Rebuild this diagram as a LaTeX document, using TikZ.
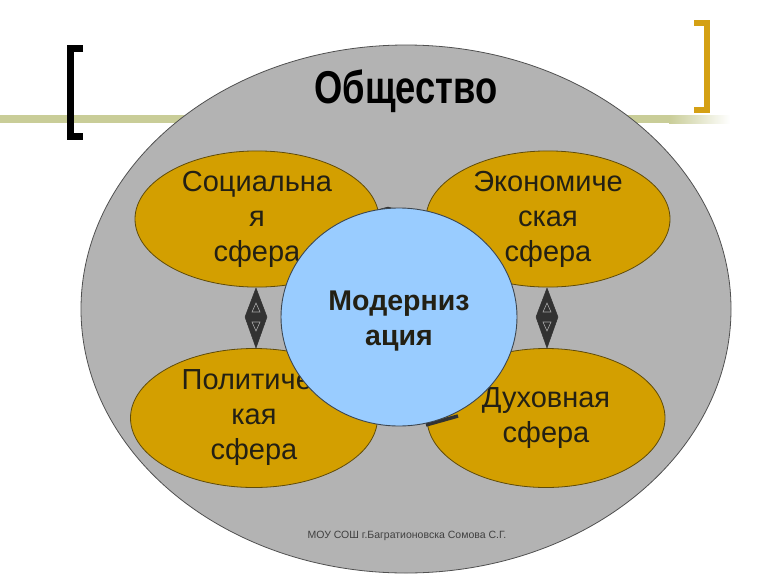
\documentclass[tikz,border=0pt]{standalone}
\usepackage{fontspec}
\setmainfont{Liberation Sans}
\usetikzlibrary{shapes.geometric,calc}
\definecolor{goldfill}{RGB}{211,159,0}
\definecolor{goldline}{RGB}{95,75,10}
\definecolor{grayfill}{RGB}{179,179,179}
\definecolor{grayline}{RGB}{80,80,80}
\definecolor{bluefill}{RGB}{153,204,255}
\definecolor{blueline}{RGB}{60,70,80}
\definecolor{olivebar}{RGB}{201,205,152}
\definecolor{bracketgold}{RGB}{212,160,20}
\definecolor{darkarrow}{RGB}{50,50,50}
\definecolor{txt}{RGB}{35,32,20}
\tikzset{
  sphere/.style={ellipse, draw=goldline, line width=0.8pt, fill=goldfill, inner sep=0pt,
    align=center, text=txt, font=\fontsize{29}{35}\selectfont},
  society/.style={ellipse, draw=grayline, line width=0.8pt, fill=grayfill, inner sep=0pt},
  centre/.style={ellipse, draw=blueline, line width=0.9pt, fill=bluefill, inner sep=0pt},
  centrelabel/.style={align=center, text=txt, inner sep=0pt, font=\fontsize{28.5}{35}\selectfont\bfseries},
  dblarrow/.style={fill=darkarrow, draw=darkarrow, line width=0.5pt, line join=round},
  tri/.style={draw=gray!70, line width=0.6pt}
}
\begin{document}
\begin{tikzpicture}[x=1pt,y=-1pt]
\useasboundingbox (0,0) rectangle (768,576);
% horizontal bar
\fill[olivebar] (0,115) rectangle (670,123);
\shade[left color=olivebar, right color=white] (669,115) rectangle (730,123);
% big society ellipse
\node[society, minimum width=650pt, minimum height=528pt] (soc) at (406,309) {};
\node[anchor=base, text=black, font=\fontsize{46}{50}\selectfont\bfseries] (title) at (406,103) {\scalebox{0.79}[1]{Общество}};
% brackets
\draw[black, line width=7pt, line cap=butt] (83,48.5) -- (70.5,48.5) -- (70.5,136.5) -- (83,136.5);
\draw[bracketgold, line width=6pt, line cap=butt] (694,23) -- (707,23) -- (707,110) -- (694,110);
% spheres
\node[sphere, minimum width=244pt, minimum height=136pt] (social) at (257,219) {Социальна\\я\\сфера};
\node[sphere, minimum width=244pt, minimum height=136pt] (econ) at (548,219) {Экономиче\\ская\\сфера};
\node[sphere, minimum width=247pt, minimum height=139pt] (polit) at (254,418) {Политичес\\кая\\сфера};
\node[sphere, minimum width=238pt, minimum height=139pt] (spirit) at (546,418) {Духовная\\сфера};
% hidden horizontal arrows behind the centre
\coordinate (ht) at (388,212);
\fill[dblarrow] ($(ht)+(-18,0)$) -- ($(ht)+(0,-5)$) -- ($(ht)+(18,0)$) -- ($(ht)+(0,5)$) -- cycle;
\coordinate (hb1) at (426,425);
\coordinate (hb2) at (458,416);
\draw[darkarrow, line width=3.5pt] (hb1) -- (hb2);
% vertical double arrows
\foreach \c/\x in {dl/256, dr/547}{
  \coordinate (\c) at (\x,317);
  \fill[dblarrow] ($(\c)+(0,-29)$) -- ($(\c)+(11,0)$) -- ($(\c)+(0,31)$) -- ($(\c)+(-11,0)$) -- cycle;
  \draw[tri] ($(\c)+(-4,-5)$) -- ($(\c)+(4,-5)$) -- ($(\c)+(0,-14)$) -- cycle;
  \draw[tri] ($(\c)+(-4,5)$) -- ($(\c)+(4,5)$) -- ($(\c)+(0,14)$) -- cycle;
}
% centre
\node[centre, minimum width=236pt, minimum height=218pt] (mod) at (399,317) {};
\node[centrelabel] (modlabel) at (399,321) {Модерниз\\ация};
% footer
\node[text=black!75, font=\fontsize{10.5}{12}\selectfont] (foot) at (407,536) {МОУ СОШ г.Багратионовска Сомова С.Г.};
\end{tikzpicture}
\end{document}
